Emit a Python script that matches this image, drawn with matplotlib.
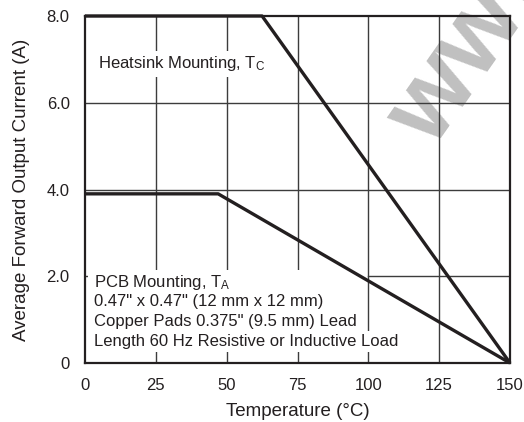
import matplotlib
matplotlib.use("Agg")
import matplotlib.pyplot as plt
from matplotlib.patches import Rectangle
from matplotlib.transforms import Bbox

# Curvas de derating (temperatura x corrente media)
temp_dissipador = [0, 62.5, 150]
corrente_dissipador = [8.0, 8.0, 0.0]
temp_pcb = [0, 47, 150]
corrente_pcb = [3.9, 3.9, 0.0]

ticks_x = [0, 25, 50, 75, 100, 125, 150]
ticks_y = [0, 2, 4, 6, 8]
rotulos_y = ["0", "2.0", "4.0", "6.0", "8.0"]

texto_pcb = [
    r"PCB Mounting, T$_\mathregular{A}$",
    '0.47" x 0.47" (12 mm x 12 mm)',
    'Copper Pads 0.375" (9.5 mm) Lead',
    "Length 60 Hz Resistive or Inductive Load",
]

plt.rcParams["font.family"] = ["Liberation Sans", "DejaVu Sans"]
plt.rcParams["mathtext.default"] = "regular"

cor = "#231f20"
cor_grade = "#3c3c3c"

fig = plt.figure(figsize=(5.24, 4.22), dpi=100)
ax = fig.add_axes([85 / 524, 1 - 363 / 422, 425 / 524, 347 / 422])
ax.set_xlim(0, 150)
ax.set_ylim(0, 8)

# Grade
for x in ticks_x[1:-1]:
    ax.axvline(x, color=cor_grade, lw=1.0, zorder=1)
for y in [4, 6]:
    ax.axhline(y, color=cor_grade, lw=1.0, zorder=1)
ax.axhline(2, xmin=100 / 150, xmax=1, color=cor_grade, lw=1.0, zorder=1)
ax.axhline(2, xmin=0, xmax=0.008, color=cor_grade, lw=1.0, zorder=1)

# Curvas
ax.plot(temp_dissipador, corrente_dissipador, color=cor, lw=2.4,
        solid_capstyle="butt", clip_on=False, zorder=5)
ax.plot(temp_pcb, corrente_pcb, color=cor, lw=2.4,
        solid_capstyle="butt", clip_on=False, zorder=5)

caixa = dict(facecolor="white", edgecolor="none", pad=2.5)
ax.text(4.5, 6.80, r"Heatsink Mounting, T$_\mathregular{C}$", fontsize=12,
        color=cor, va="baseline", ha="left", bbox=caixa, zorder=3)

linhas = []
for linha, yb in zip(texto_pcb, [1.752, 1.303, 0.853, 0.392]):
    t = ax.text(3.2, yb, linha, fontsize=12, color=cor, va="baseline",
                ha="left", zorder=3)
    linhas.append(t)

for s in ax.spines.values():
    s.set_linewidth(1.6)
    s.set_color(cor)
    s.set_zorder(4)

ax.set_xticks(ticks_x)
ax.set_yticks(ticks_y)
ax.set_yticklabels(rotulos_y)
ax.tick_params(length=0, pad=11, labelsize=12, labelcolor=cor)

ax.set_xlabel("Temperature (°C)", fontsize=13.5, color=cor, labelpad=7)
ax.set_ylabel("Average Forward Output Current (A)", fontsize=13.5,
              color=cor, labelpad=12)

# Fundo branco atras do texto do PCB (tres primeiras linhas juntas, depois a ultima)
fig.canvas.draw()
rend = fig.canvas.get_renderer()
inv = ax.transData.inverted()
for grupo in [linhas[:3], linhas[3:]]:
    bb = Bbox.union([t.get_window_extent(rend) for t in grupo])
    (x0, y0), (x1, y1) = inv.transform([(bb.x0 - 6, bb.y0 - 3), (bb.x1 + 5, bb.y1 + 3)])
    ax.add_patch(Rectangle((x0, y0), x1 - x0, y1 - y0, facecolor="white",
                           edgecolor="none", zorder=2))

# Marca d'agua (fica atras da grade)
ax.text(433 / 524, 1 - 150 / 422, "www", transform=fig.transFigure,
        fontsize=76, color="#c0c0c0", fontweight="bold", rotation=55,
        rotation_mode="anchor", ha="left", va="baseline", zorder=0.5,
        clip_on=False)

fig.savefig("out.png", dpi=100)
